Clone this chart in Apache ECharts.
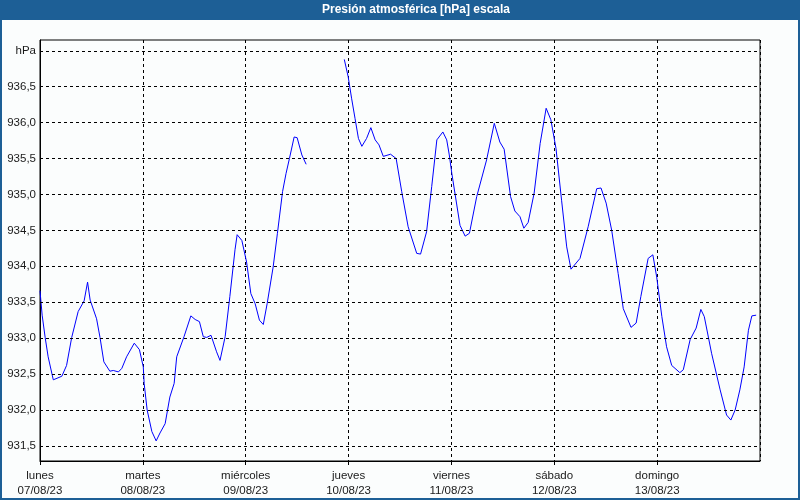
<!DOCTYPE html>
<html>
<head>
<meta charset="utf-8">
<script src="https://cdn.jsdelivr.net/npm/echarts@6/dist/echarts.min.js"></script>
<style>
  html, body { margin: 0; padding: 0; background: #fbfdfd; }
  #chart { width: 800px; height: 500px; }
</style>
</head>
<body>
<div id="chart"></div>
<script>
// hours since lunes 07/08/23 00:00
var hours = [
  0, 0.5, 1.2, 1.9, 3.1, 5.1, 6.2, 7.4, 8.9, 10.3, 11.1, 11.7, 13.2, 14, 14.9, 16.3, 17.1, 18.3, 19.1, 20.2,
  22, 23.2, 24.1, 24.3, 25, 26.1, 27.1, 28, 29.2, 30.3, 31.3, 31.9, 33.6, 35.2, 36.2, 37.2, 38.1, 38.9, 39.9, 41.2,
  42, 43.2, 44.3, 45.5, 46, 47.1, 48.2, 49.2, 50.2, 51.2, 52.1, 53, 54.4, 55.4, 56.6, 57.4, 58.2, 59.3, 60, 61.1,
  62.1, 66,
  71, 71.9, 72.7, 73.5, 74.3, 75.1, 76.2, 77.2, 78.2, 79.1, 80.1, 81.8, 83.1, 84.4, 85.9, 87.9, 88.8, 90.2, 91.4, 92.6,
  94, 94.9, 95.5, 96.1, 98, 99.2, 100.2, 101.9, 104.2, 106, 107.3, 108.3, 109.8, 110.8, 112, 112.9, 113.9, 115.3, 116.7, 118.1,
  119.2, 120.4, 121.7, 122.9, 123.9, 126, 127.9, 129.9, 130.9, 132.1, 133.4, 134.9, 136.1, 137.9, 139.1, 140.2, 141.9, 143, 143.9, 145.1,
  146.2, 147.4, 149.3, 150.1, 151.7, 153.1, 154.2, 155, 156.7, 158.7, 160.2, 161.2, 162.2, 163.3, 164.3, 165.3, 166.1, 167.1
];
var pressure = [
  933.66, 933.32, 933.01, 932.74, 932.42, 932.47, 932.62, 933.01, 933.37, 933.52, 933.78, 933.53, 933.27, 933.01, 932.67, 932.54, 932.55, 932.53, 932.58, 932.74,
  932.93, 932.84, 932.60, 932.37, 932.00, 931.70, 931.57, 931.68, 931.81, 932.18, 932.37, 932.74, 933.02, 933.31, 933.26, 933.23, 933.02, 933.01, 933.04, 932.81,
  932.69, 933.02, 933.58, 934.23, 934.44, 934.36, 934.06, 933.62, 933.48, 933.25, 933.19, 933.48, 933.99, 934.46, 935.04, 935.29, 935.50, 935.80, 935.79, 935.55,
  935.42, null,
  936.88, 936.64, 936.34, 936.06, 935.78, 935.67, 935.78, 935.93, 935.76, 935.69, 935.53, 935.56, 935.50, 935.04, 934.55, 934.18, 934.17, 934.48, 935.11, 935.76,
  935.87, 935.76, 935.55, 935.29, 934.57, 934.42, 934.46, 934.97, 935.48, 935.99, 935.73, 935.63, 934.97, 934.77, 934.69, 934.53, 934.61, 935.02, 935.71, 936.20,
  936.04, 935.64, 934.92, 934.27, 933.96, 934.11, 934.55, 935.08, 935.09, 934.88, 934.50, 933.90, 933.41, 933.15, 933.21, 933.58, 934.11, 934.16, 933.85, 933.30,
  932.88, 932.62, 932.52, 932.56, 932.98, 933.14, 933.40, 933.30, 932.79, 932.28, 931.93, 931.86, 932.00, 932.28, 932.60, 933.11, 933.31, 933.32
];
var dayNames = ['lunes', 'martes', 'miércoles', 'jueves', 'viernes', 'sábado', 'domingo'];
var dayDates = ['07/08/23', '08/08/23', '09/08/23', '10/08/23', '11/08/23', '12/08/23', '13/08/23'];
var yTicks = [931.5, 932.0, 932.5, 933.0, 933.5, 934.0, 934.5, 935.0, 935.5, 936.0, 936.5, 937.0];
var titleText = 'Presión atmosférica [hPa] escala';
var unitLabel = 'hPa';

var points = hours.map(function (h, i) { return [h, pressure[i] === null ? '-' : pressure[i]]; });

var chart = echarts.init(document.getElementById('chart'));
var font = '"Liberation Sans", Arial, sans-serif';
chart.setOption({
  backgroundColor: '#fbfdfd',
  animation: false,
  graphic: [
    { type: 'rect', shape: { x: 0, y: 0, width: 800, height: 20 }, style: { fill: '#1d5f96' }, z: 0 },
    { type: 'rect', shape: { x: 1, y: 1, width: 798, height: 498 }, style: { fill: null, stroke: '#1d5f96', lineWidth: 2 }, z: 0 },
    { type: 'text', x: 416, y: 10, style: { text: titleText, fill: '#ffffff', font: 'bold 12px ' + font, align: 'center', verticalAlign: 'middle' }, z: 1 }
  ],
  grid: { left: 40, right: 40, top: 40, bottom: 39, show: true, borderColor: '#000', borderWidth: 1, backgroundColor: 'transparent' },
  xAxis: {
    type: 'value', min: 0, max: 168, interval: 24,
    axisLine: { lineStyle: { color: '#000', width: 1 } },
    axisTick: { show: true, length: 4, lineStyle: { color: '#000' } },
    splitLine: { show: true, lineStyle: { color: '#000', type: [3, 3], width: 1 } },
    axisLabel: {
      showMaxLabel: false, margin: 7, color: '#1a1a1a', fontFamily: font, fontSize: 11.5, lineHeight: 15,
      formatter: function (v) { var i = Math.round(v / 24); return i < 7 ? dayNames[i] + '\n' + dayDates[i] : ''; }
    }
  },
  yAxis: {
    type: 'value', min: 931.29, max: 937.15,
    axisLine: { show: true, lineStyle: { color: '#000', width: 1 } },
    axisTick: { show: false },
    splitLine: { show: false },
    axisLabel: { show: false }
  },
  series: [{
    type: 'line', data: [], z: 1, silent: true,
    markLine: {
      silent: true, symbol: 'none', animation: false,
      lineStyle: { color: '#000', type: [3, 3], width: 1 },
      label: {
        position: 'start', distance: 4, color: '#1a1a1a', fontFamily: font, fontSize: 11.5,
        formatter: function (p) {
          return Math.abs(p.value - 937) < 0.001 ? unitLabel : Number(p.value).toFixed(1).replace('.', ',');
        }
      },
      emphasis: { disabled: true },
      data: yTicks.map(function (v) { return { yAxis: v }; })
    }
  }, {
    type: 'line', data: points, z: 3, showSymbol: false, connectNulls: false,
    lineStyle: { color: '#0000ff', width: 1 }, itemStyle: { color: '#0000ff' }
  }]
});
</script>
</body>
</html>
